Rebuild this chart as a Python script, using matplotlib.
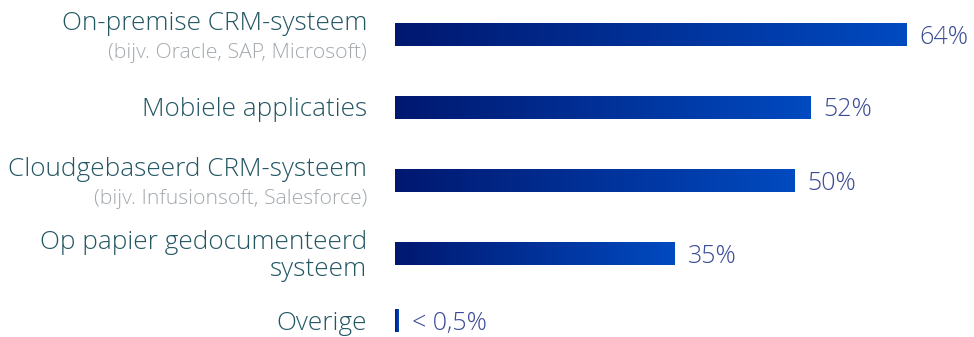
import matplotlib.pyplot as plt
import numpy as np
from matplotlib.colors import LinearSegmentedColormap

labels = ["On-premise CRM-systeem", "Mobiele applicaties", "Cloudgebaseerd CRM-systeem",
          "Op papier gedocumenteerd\nsysteem", "Overige"]
sublabels = ["(bijv. Oracle, SAP, Microsoft)", "", "(bijv. Infusionsoft, Salesforce)", "", ""]
values = [64, 52, 50, 35, 0.5]
value_labels = ["64%", "52%", "50%", "35%", "< 0,5%"]

# vertical bar centres in pixel rows of the picture
ypos = [35, 107.5, 181, 254, 321]
bar_h = 23

plt.rcParams['font.family'] = ['Open Sans', 'DejaVu Sans']

fig = plt.figure(figsize=(9.74, 3.37), dpi=100)
left = 395 / 974
ax = fig.add_axes([left, 0, 1 - left, 1])
ax.set_xlim(0, (974 - 395) / 8.0)
ax.set_ylim(337, 0)
ax.axis('off')

cmap = LinearSegmentedColormap.from_list('grad', ['#001870', '#004ac0'])
grad = np.linspace(0, 1, 256).reshape(1, -1)

txt_color = '#235663'
for i in range(len(values)):
    y = ypos[i]
    v = values[i]
    ax.imshow(grad, cmap=cmap, aspect='auto',
              extent=[0, v, y + bar_h / 2, y - bar_h / 2], interpolation='bilinear')
    ax.text(v + 1.6, y + 2.5, value_labels[i], ha='left', va='center',
            fontsize=18, color='#3b4a96', fontweight='light')

    if sublabels[i]:
        fig.text(367 / 974, 1 - (y - 11) / 337, labels[i], ha='right', va='center',
                 fontsize=18.8, color=txt_color, fontweight='light')
        fig.text(367 / 974, 1 - (y + 18) / 337, sublabels[i], ha='right', va='center',
                 fontsize=15.3, color='#a2a9ae', fontweight='light')
    else:
        fig.text(367 / 974, 1 - (y + 2) / 337, labels[i], ha='right', va='center',
                 fontsize=18.8, color=txt_color, linespacing=1.08, fontweight='light')

fig.savefig('out.png', dpi=100)
